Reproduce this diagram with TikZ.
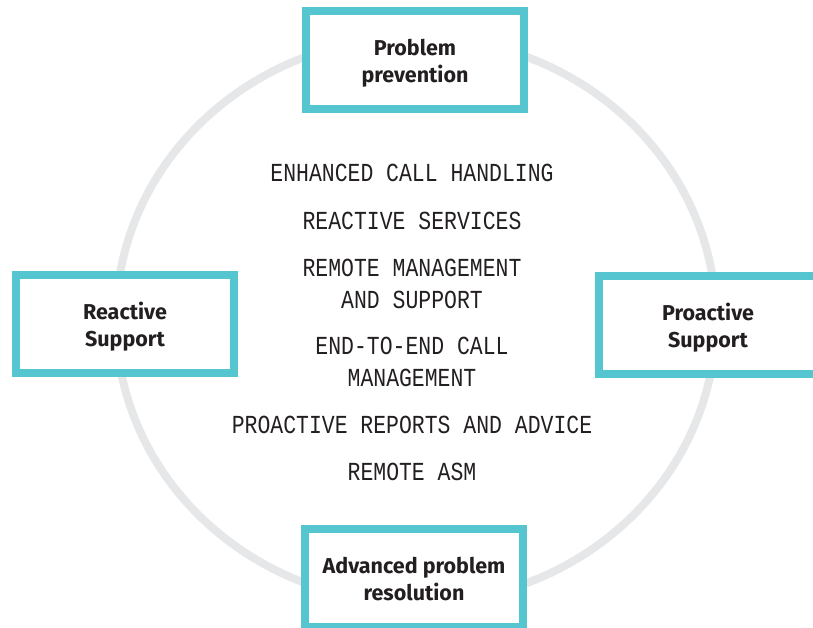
\documentclass[tikz,border=0pt]{standalone}
\usepackage{fontspec}
\setmainfont{Fira Sans}
\newfontfamily\servicemono[FakeStretch=0.825]{Liberation Mono}
\usetikzlibrary{positioning}

\definecolor{ringgray}{HTML}{E6E7E8}
\definecolor{stageteal}{HTML}{55C5CF}
\definecolor{inktext}{HTML}{231F20}

\tikzset{
  ring/.style={draw=ringgray, line width=8pt},
  stage/.style={draw=stageteal, fill=white, line width=8pt,
    minimum width=218pt, minimum height=98pt, inner sep=0pt,
    text height=45pt, text depth=0pt,
    align=center, text=inktext, font=\fontsize{21.5}{27}\selectfont\bfseries},
  service/.style={align=center, inner sep=0pt, text=inktext,
    font=\servicemono\fontsize{26}{31.5}\selectfont}
}

\begin{document}
\begin{tikzpicture}[x=1pt,y=-1pt]
\useasboundingbox (0,0) rectangle (813,628);
\clip (0,0) rectangle (813,628);

%cycle
\draw [ring] (416,320) ellipse [x radius=300, y radius=283];

%stages
\node [stage] (prevention) at (415,60) {Problem\\prevention};
\node [stage] (reactive) at (125,324) {Reactive\\Support};
\node [stage] (proactive) at (708,324.5) {Proactive\\Support};
\node [stage] (resolution) at (414,578) {Advanced problem\\resolution};

%services
\node [service] (callhandling) at (412,173) {ENHANCED CALL HANDLING};
\node [service] (reactsvc) at (412,220.5) {REACTIVE SERVICES};
\node [service] (remotemgmt) at (412,284) {REMOTE MANAGEMENT\\AND SUPPORT};
\node [service] (endtoend) at (412,362) {END-TO-END CALL\\MANAGEMENT};
\node [service] (reports) at (412,424.5) {PROACTIVE REPORTS AND ADVICE};
\node [service] (remoteasm) at (412,472) {REMOTE ASM};
\end{tikzpicture}
\end{document}
